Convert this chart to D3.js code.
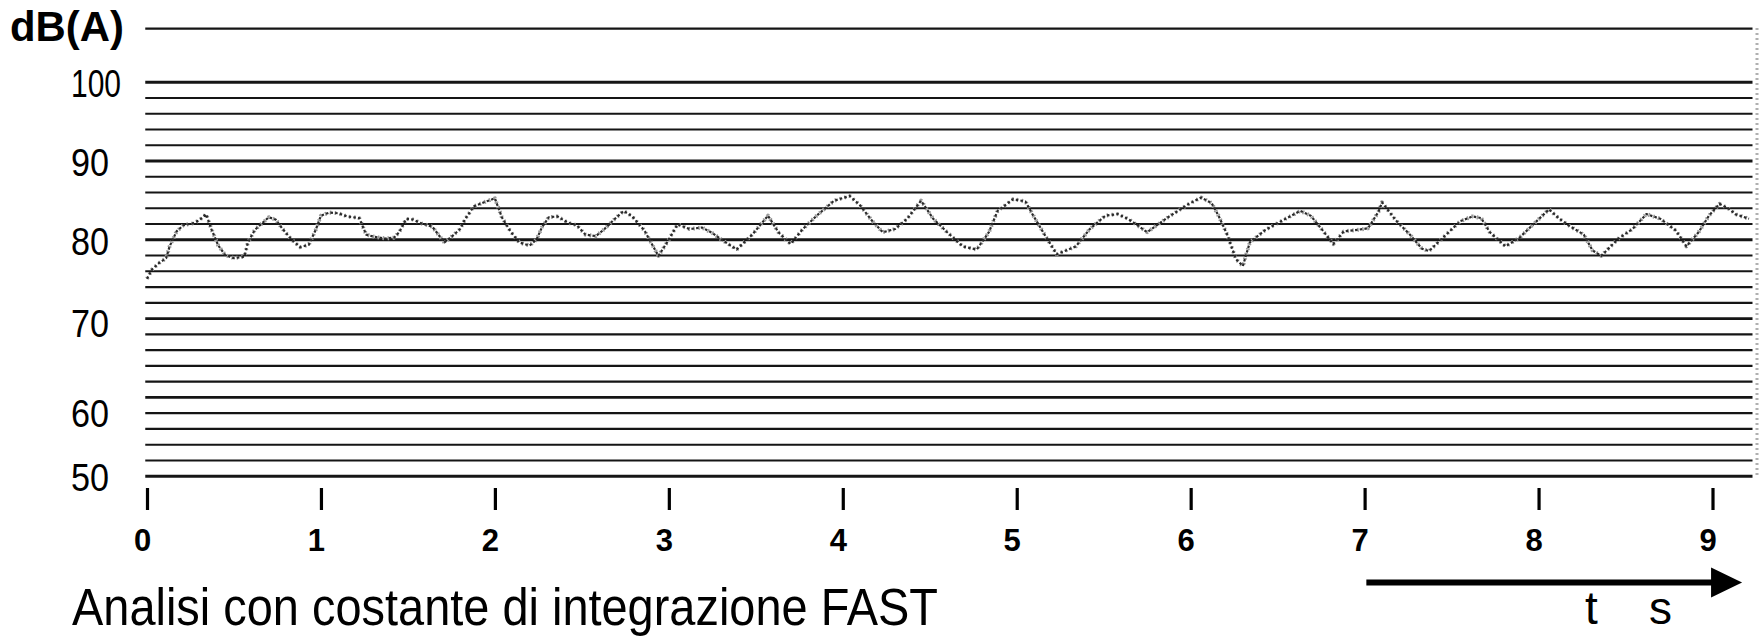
<!DOCTYPE html>
<html><head><meta charset="utf-8">
<script src="https://cdn.jsdelivr.net/npm/d3@7"></script>
<style>
html,body{margin:0;padding:0;background:#fff;}
svg{display:block;}
</style></head>
<body>
<svg id="chart" width="1762" height="636"></svg>
<script>
// ---- data ----
const timeSeconds = [0.00,0.03,0.07,0.11,0.13,0.17,0.21,0.26,0.30,0.34,0.37,0.41,0.45,0.50,0.56,0.58,0.62,0.66,0.70,0.74,0.78,0.83,0.88,0.93,0.97,1.00,1.05,1.10,1.15,1.22,1.26,1.31,1.37,1.42,1.45,1.49,1.53,1.58,1.64,1.71,1.76,1.80,1.83,1.88,1.95,2.00,2.04,2.09,2.14,2.20,2.24,2.27,2.31,2.36,2.42,2.47,2.52,2.58,2.63,2.69,2.74,2.79,2.86,2.94,2.99,3.05,3.12,3.19,3.25,3.30,3.39,3.48,3.57,3.63,3.70,3.77,3.85,3.95,4.04,4.10,4.17,4.23,4.30,4.37,4.45,4.52,4.60,4.69,4.77,4.84,4.89,4.98,5.05,5.09,5.16,5.23,5.34,5.42,5.51,5.58,5.64,5.75,5.87,5.99,6.06,6.12,6.16,6.21,6.26,6.30,6.34,6.43,6.52,6.63,6.69,6.76,6.82,6.88,6.96,7.02,7.08,7.10,7.18,7.26,7.33,7.37,7.45,7.55,7.62,7.67,7.72,7.81,7.89,7.97,8.06,8.12,8.17,8.26,8.31,8.36,8.46,8.54,8.62,8.70,8.79,8.85,8.92,8.98,9.04,9.10,9.13,9.21];
const levelDbA = [75.0,76.2,77.0,77.6,79.1,81.0,81.8,82.0,82.4,83.2,81.3,79.2,78.0,77.6,77.8,79.6,81.2,82.0,82.8,82.5,81.3,80.0,79.0,79.3,81.2,83.0,83.4,83.3,82.9,82.7,80.6,80.3,80.1,80.2,80.9,82.6,82.5,82.0,81.6,79.6,80.5,81.3,82.6,84.2,84.8,85.2,82.8,81.0,79.6,79.2,80.0,81.5,82.8,82.9,82.1,81.8,80.6,80.4,81.3,82.6,83.6,82.9,81.1,77.9,79.6,81.9,81.3,81.5,80.8,80.0,78.7,80.6,83.0,80.9,79.4,81.3,83.0,84.9,85.5,84.3,82.3,80.9,81.3,82.6,84.9,82.6,80.9,79.1,78.7,80.9,83.6,85.1,84.8,83.2,80.6,78.1,79.1,81.3,83.0,83.2,82.6,80.9,82.8,84.5,85.3,84.6,83.0,80.6,77.5,76.6,79.6,81.2,82.3,83.6,83.0,81.1,79.4,81.0,81.2,81.4,83.5,84.7,82.4,80.6,78.8,78.5,80.2,82.3,82.9,82.7,80.9,79.1,80.2,81.9,83.8,82.6,81.8,80.6,78.6,77.9,80.1,81.3,83.2,82.6,81.1,79.1,80.9,83.0,84.5,83.8,83.2,82.6];
const xTickValues = [0,1,2,3,4,5,6,7,8,9];
const xTickLabels = ["0","1","2","3","4","5","6","7","8","9"];
const gridLevels = [50,52,54,56,58,60,62,64,66,68,70,72,74,76,78,80,82,84,86,88,90,92,94,96,98,100,106.8];
const majorLevels = [50,60,70,80,90,100];
const yLabelText = ["100","90","80","70","60","50"];
const yLabelLevel = [99.85,89.9,79.9,69.4,58.0,49.9];   // level at which each label is printed
const yUnitLabel = "dB(A)";
const titleText = "Analisi con costante di integrazione FAST";
const timeUnitLabels = ["t","s"];
const gridSpan = [-0.01, 9.23];    // seconds covered by the ruled paper
const arrowSpan = [7.01, 9.17];    // seconds covered by the time arrow

// ---- drawing ----
const svg = d3.select("#chart");
const x = d3.scaleLinear().domain([0, 9]).range([147, 1712.5]);
const y = d3.scaleLinear().domain([50, 100]).range([475.7, 81.7]);
const narrow = "'Liberation Sans Narrow','Arial Narrow','Liberation Sans',sans-serif";
const sans = "'Liberation Sans',Arial,Helvetica,sans-serif";

// ruled lines
const gx0 = x(gridSpan[0]), gx1 = x(gridSpan[1]);
const grid = svg.append("g").attr("transform", `translate(${gx0},0)`)
  .call(d3.axisLeft(y).tickValues(gridLevels).tickSize(-(gx1 - gx0)).tickFormat(""));
grid.select(".domain").remove();
grid.selectAll(".tick line")
  .attr("stroke", "#151515")
  .attr("stroke-width", d => majorLevels.includes(d) ? 2.9 : (d > 100 ? 2.3 : 2.1));

// scanned right edge
svg.append("line")
  .attr("x1", 1757).attr("x2", 1757).attr("y1", y(106.8)).attr("y2", y(50))
  .attr("stroke", "#b0b0b0").attr("stroke-width", 3).attr("stroke-dasharray", "2 3");

// trace
const pts = timeSeconds.map((t, i) => ({t, v: levelDbA[i]}));
const line = d3.line().x(d => x(d.t)).y(d => y(d.v));
svg.append("path").datum(pts).attr("d", line)
  .attr("fill", "none").attr("stroke", "#9a9a9a").attr("stroke-width", 4)
  .attr("stroke-dasharray", "1.5 3.5").attr("stroke-linejoin", "round");
svg.append("path").datum(pts).attr("d", line)
  .attr("fill", "none").attr("stroke", "#2a2a2a").attr("stroke-width", 2.2)
  .attr("stroke-dasharray", "2.5 2.2").attr("stroke-linejoin", "round");

// y labels
const ya = svg.append("g").attr("transform", "translate(71,0)")
  .call(d3.axisLeft(y).tickValues(yLabelLevel).tickSize(0).tickPadding(0)
        .tickFormat((d, i) => yLabelText[i]));
ya.select(".domain").remove();
ya.selectAll(".tick text")
  .attr("text-anchor", "start").attr("x", 0).attr("dy", "0.36em")
  .attr("fill", "#000").style("font-family", narrow).style("font-size", "39px")
  .attr("textLength", (d, i) => yLabelText[i].length > 2 ? 50 : 38)
  .attr("lengthAdjust", "spacingAndGlyphs");

// unit label
svg.append("text").attr("x", 10).attr("y", 41).text(yUnitLabel)
  .attr("fill", "#000").style("font-family", sans).style("font-weight", "bold").style("font-size", "42px")
  .attr("textLength", 114).attr("lengthAdjust", "spacingAndGlyphs");

// x axis ticks
const xa = svg.append("g").attr("transform", "translate(0,488)")
  .call(d3.axisBottom(x).tickValues(xTickValues).tickSize(22).tickPadding(19)
        .tickFormat((d, i) => xTickLabels[i]));
xa.select(".domain").remove();
xa.selectAll(".tick line").attr("stroke", "#000").attr("stroke-width", 3.2);
xa.selectAll(".tick text").attr("dx", -5).attr("fill", "#000")
  .style("font-family", sans).style("font-weight", "bold").style("font-size", "31px");

// time arrow
const ay = 582.5, ax0 = x(arrowSpan[0]), ax1 = x(arrowSpan[1]), head = 31;
svg.append("line").attr("x1", ax0).attr("x2", ax1 - head + 2).attr("y1", ay).attr("y2", ay)
  .attr("stroke", "#000").attr("stroke-width", 6);
svg.append("path")
  .attr("d", `M${ax1},${ay} L${ax1 - head},${ay - 15} L${ax1 - head},${ay + 15} Z`)
  .attr("fill", "#000");
svg.append("text").attr("x", 1585).attr("y", 624).text(timeUnitLabels[0])
  .attr("fill", "#000").style("font-family", sans).style("font-size", "46px");
svg.append("text").attr("x", 1649).attr("y", 624).text(timeUnitLabels[1])
  .attr("fill", "#000").style("font-family", sans).style("font-size", "46px");

// caption
svg.append("text").attr("x", 72).attr("y", 625).text(titleText)
  .attr("fill", "#000").style("font-family", narrow).style("font-size", "51px")
  .attr("textLength", 866).attr("lengthAdjust", "spacingAndGlyphs");
</script>
</body></html>
